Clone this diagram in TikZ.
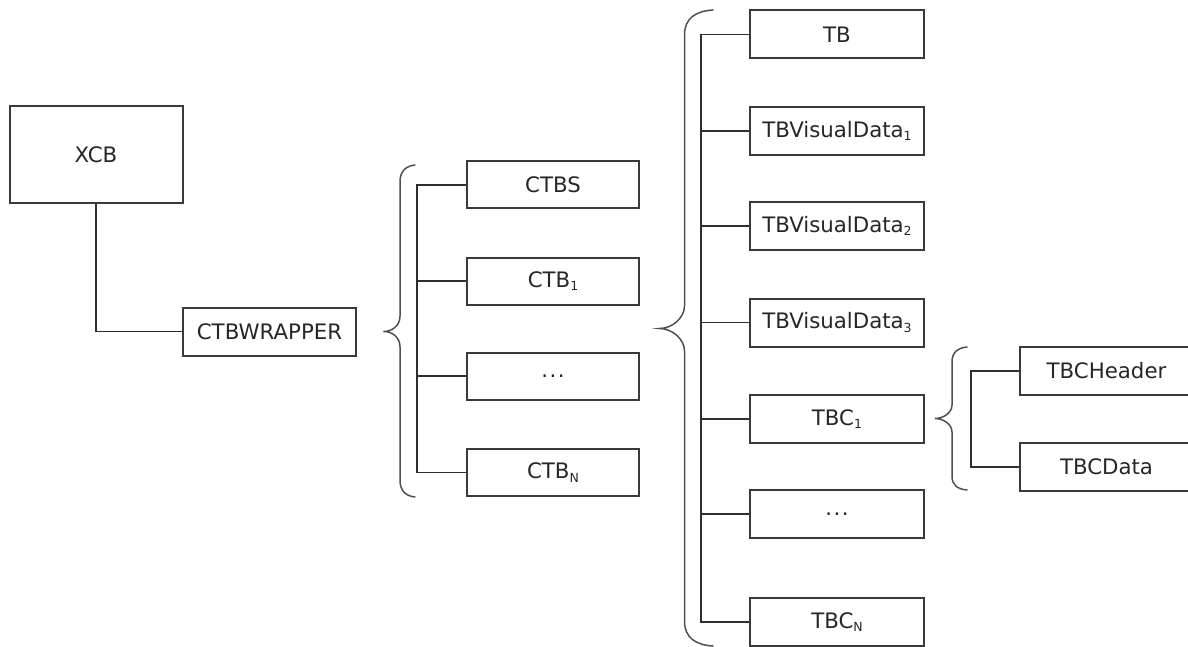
\documentclass[tikz,border=0pt]{standalone}
\usepackage{fontspec}
\setmainfont{DejaVu Sans}
\definecolor{boxgray}{HTML}{3A3A3A}
\definecolor{linegray}{HTML}{2E2E2E}
\definecolor{bracegray}{HTML}{505050}
\definecolor{textgray}{HTML}{262626}
\newcommand{\mysub}[1]{\raisebox{-0.28ex}{\fontsize{12.5}{12.5}\selectfont #1}}
\tikzset{
  box/.style={draw=boxgray, line width=2pt, minimum width=173pt, minimum height=48pt,
    inner sep=0pt, font=\fontsize{21.3}{25}\selectfont, text=textgray},
  link/.style={draw=linegray, line width=1.8pt},
  bracel/.style={draw=bracegray, line width=1.5pt, line cap=round},
}
\begin{document}
\begin{tikzpicture}[x=1pt,y=-1pt]
\useasboundingbox (0,0) rectangle (1188,647);
\clip (0,0) rectangle (1188,647);
% nodes
\node[box, minimum height=96.7pt] (xcb) at (96,154.3) {XCB};
\node[box] (wrap) at (269.5,331.5) {CTBWRAPPER};
\node[box, minimum width=172.6pt, minimum height=47pt] (ctbs) at (553,185) {CTBS};
\node[box, minimum width=172.6pt, minimum height=47pt] (ctb1) at (553,281) {CTB\mysub{1}};
\node[box, minimum width=172.6pt, minimum height=47pt] (ctbd) at (553,376) {.\kern1.5pt.\kern1.5pt.};
\node[box, minimum width=172.6pt, minimum height=47pt] (ctbn) at (553,472.5) {CTB\mysub{N}};
\node[box, minimum width=174pt] (tb) at (837,34.5) {TB};
\node[box, minimum width=174pt] (tbv1) at (837,131) {TBVisualData\mysub{1}};
\node[box, minimum width=174pt] (tbv2) at (837,226) {TBVisualData\mysub{2}};
\node[box, minimum width=174pt] (tbv3) at (837,322.5) {TBVisualData\mysub{3}};
\node[box, minimum width=174pt] (tbc1) at (837,419) {TBC\mysub{1}};
\node[box, minimum width=174pt] (tbcd) at (837,514) {.\kern1.5pt.\kern1.5pt.};
\node[box, minimum width=174pt] (tbcn) at (837,622) {TBC\mysub{N}};
\node[box] (tbch) at (1106.5,371) {TBCHeader};
\node[box] (tbcdata) at (1106.5,467) {TBCData};
% connectors
\draw[link] (xcb.south) |- (wrap.west);
\draw[link] (ctbs.west) -- ++(-49,0) |- (ctbn.west);
\draw[link] (ctb1.west) -- ++(-49,0);
\draw[link] (ctbd.west) -- ++(-49,0);
\draw[link] (tb.west) -- ++(-47.7,0) |- (tbcn.west);
\foreach \n in {tbv1,tbv2,tbv3,tbc1,tbcd}{\draw[link] (\n.west) -- ++(-47.7,0);}
\draw[link] (tbch.west) -- ++(-47.7,0) |- (tbcdata.west);
% braces
\draw[bracel] (415,165) .. controls (405,166) and (400,172) .. (400,182) -- (400,316)
  .. controls (400,326) and (392,331.5) .. (383.5,331.5)
  .. controls (392,331.5) and (400,337) .. (400,347) -- (400,480)
  .. controls (400,490) and (405,496) .. (415,497);
\draw[bracel] (713,10) .. controls (696,11) and (684.5,18) .. (684.5,35) -- (684.5,306)
  .. controls (684.5,318) and (672,328.5) .. (659.5,328.5)
  .. controls (672,328.5) and (684.5,339) .. (684.5,351) -- (684.5,621)
  .. controls (684.5,638) and (696,645) .. (713,646);
\draw[bracel] (967,347) .. controls (957,348) and (952,353) .. (952,362) -- (952,405)
  .. controls (952,413) and (943,418.5) .. (935,418.5)
  .. controls (943,418.5) and (952,424) .. (952,432) -- (952,476)
  .. controls (952,485) and (957,489) .. (967,490);
\end{tikzpicture}
\end{document}
